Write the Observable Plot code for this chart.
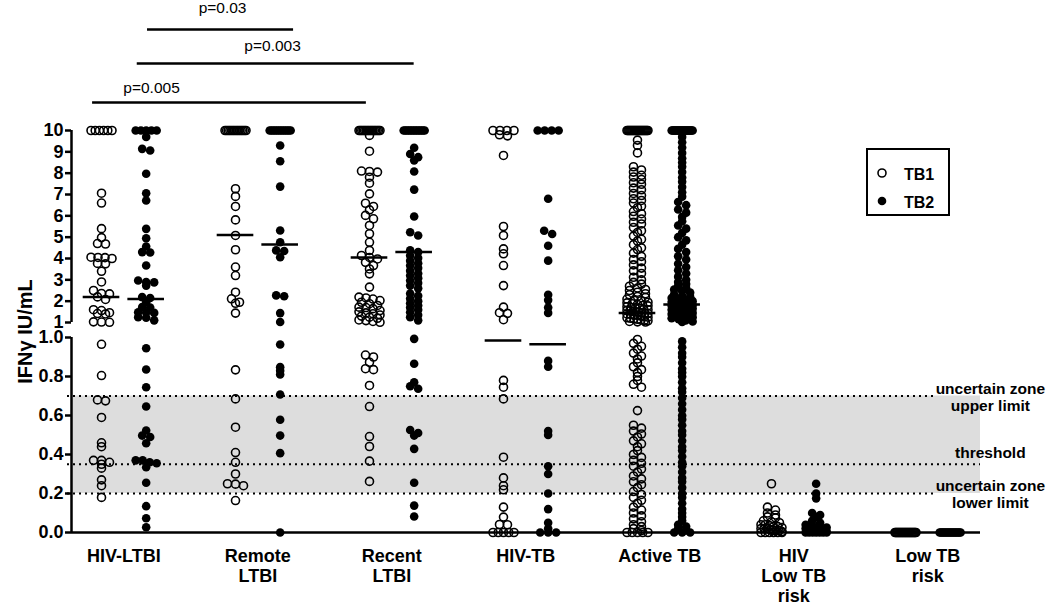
<!DOCTYPE html>
<html><head><meta charset="utf-8">
<script src="https://cdn.jsdelivr.net/npm/d3@7"></script>
<script src="https://cdn.jsdelivr.net/npm/@observablehq/plot@0.6"></script>
<style>
html,body{margin:0;padding:0;background:#fff;font-family:"Liberation Sans",Arial,Helvetica,sans-serif;}
#wrap{position:relative;width:1050px;height:605px;overflow:hidden;}
#legend{position:absolute;left:0;top:0;}
</style></head>
<body><div id="wrap"></div>
<script>
// ---------------- DATA ----------------
const groups = ["HIV-LTBI", "Remote\nLTBI", "Recent\nLTBI", "HIV-TB", "Active TB", "HIV\nLow TB\nrisk", "Low TB\nrisk"];
const seriesNames = ["TB1", "TB2"];

const hivLtbiTB1 = [10,10,10,10,10,10,7.06,6.6,5.4,4.98,4.7,4.68,4.06,4.05,4.04,4.0,3.77,3.75,3.4,2.9,2.5,2.36,2.34,2.2,2.08,1.6,1.56,1.46,1.42,1.4,1.03,1.02,1.01,0.965,0.805,0.68,0.675,0.59,0.46,0.44,0.37,0.37,0.36,0.35,0.33,0.27,0.24,0.18];
const hivLtbiTB2 = [10,10,10,10,10,9.7,9.14,9.06,7.97,7.06,6.72,5.39,4.95,4.56,4.3,4.28,3.67,2.97,2.9,2.88,2.73,2.19,2.15,1.95,1.72,1.7,1.48,1.47,1.45,1.25,1.22,1.1,0.945,0.836,0.745,0.646,0.523,0.497,0.49,0.458,0.37,0.37,0.36,0.355,0.335,0.255,0.135,0.073,0.027];
const remoteTB1 = [10,10,10,10,10,10,10,10,10,10,10,10,10,10,7.27,6.91,6.44,5.81,5.08,4.41,3.6,3.2,2.42,2.11,1.95,1.9,1.44,0.834,0.685,0.54,0.41,0.36,0.3,0.25,0.248,0.24,0.164];
const remoteTB2 = [10,10,10,10,10,10,10,10,10,10,10,10,10,9.3,8.56,7.37,5.31,4.76,4.38,4.35,4.06,2.27,2.23,1.44,1.02,0.964,0.848,0.83,0.81,0.708,0.578,0.497,0.407,0];
const recentTB1 = [10,10,10,10,10,10,10,10,10,10,10,10,10,10,10,10,9.77,9.03,8.1,8.08,8.05,7.81,7.53,7.03,6.59,6.44,6.28,6.02,5.86,5.55,5.16,4.76,4.38,4.14,4.05,3.98,3.82,3.67,3.51,3.28,2.66,2.19,2.15,2.1,2.03,1.95,1.88,1.8,1.72,1.7,1.65,1.56,1.5,1.45,1.41,1.35,1.3,1.25,1.2,1.12,1.09,1.05,1.01,0.91,0.9,0.873,0.84,0.835,0.754,0.646,0.492,0.441,0.366,0.262];
const recentTB2 = [10,10,10,10,10,10,10,10,10,10,10,10,10,10,9.19,8.9,8.75,8.6,8.08,7.23,5.97,5.23,5.08,4.38,4.3,4.14,4.02,3.9,3.78,3.67,3.55,3.43,3.3,3.2,3.08,2.97,2.85,2.73,2.6,2.36,2.25,2.12,2.0,1.9,1.8,1.7,1.6,1.48,1.35,1.25,1.1,0.993,0.865,0.77,0.75,0.737,0.526,0.51,0.497,0.429,0.255,0.138,0.082];
const hivTbTB1 = [10,10,10,10,9.8,9.75,8.83,5.5,5.08,4.45,4.22,3.67,2.73,1.72,1.46,1.43,1.13,0.78,0.745,0.685,0.386,0.28,0.24,0.219,0.13,0.079,0.041,0.04,0,0,0,0,0];
const hivTbTB2 = [10,10,10,10,6.8,5.3,5.15,4.6,3.9,2.3,2.05,1.7,1.45,0.88,0.85,0.52,0.5,0.34,0.3,0.2,0.12,0.05,0.02,0,0,0];
const activeTB1 = [10,10,10,10,10,10,10,10,10,10,10,10,10,10,10,10,10,10,10,10,10,10,
  9.55,9.3,8.95,8.3,8.15,8.05,7.9,7.82,7.7,7.55,7.48,7.3,7.22,7.05,6.95,6.8,6.72,6.6,6.45,6.38,6.2,6.1,5.98,5.85,5.7,5.62,5.45,5.3,5.22,5.05,4.9,4.82,4.65,4.5,4.42,4.25,4.1,3.95,3.85,3.7,3.55,3.42,3.3,3.12,3.0,2.88,2.8,2.7,2.62,2.55,2.5,2.42,2.35,2.3,2.22,2.18,2.1,2.05,2.02,1.95,1.92,1.88,1.85,1.8,1.78,1.74,1.7,1.68,1.66,1.62,1.6,1.57,1.55,1.52,1.5,1.48,1.46,1.44,1.42,1.4,1.38,1.35,1.33,1.3,1.28,1.25,1.22,1.2,1.17,1.15,1.12,1.1,1.08,1.05,1.03,1.02,
  0.99,0.97,0.955,0.94,0.92,0.905,0.89,0.87,0.85,0.835,0.82,0.8,0.78,0.76,0.745,0.625,0.55,0.535,0.52,0.505,0.49,0.47,0.455,0.44,0.42,0.4,0.385,0.37,0.355,0.34,0.325,0.31,0.29,0.275,0.26,0.245,0.23,0.21,0.195,0.18,0.165,0.15,0.13,0.115,0.1,0.085,0.07,0.055,0.04,0.03,0.02,0.01,0,0,0,0,0];
const activeTB2 = [10,10,10,10,10,10,10,10,10,10,10,10,10,10,10,10,10,10,10,10,10,10,
  9.7,9.45,9.2,8.95,8.7,8.5,8.3,8.05,7.8,7.6,7.35,7.1,6.9,6.65,6.5,6.3,6.15,5.95,5.75,5.55,5.4,5.2,5.0,4.85,4.65,4.45,4.3,4.1,3.95,3.75,3.6,3.45,3.3,3.15,3.0,2.9,2.8,2.72,2.62,2.55,2.48,2.4,2.32,2.25,2.2,2.15,2.1,2.05,2.0,1.96,1.92,1.88,1.85,1.82,1.78,1.75,1.72,1.68,1.65,1.6,1.55,1.5,1.45,1.4,1.35,1.3,1.25,1.2,1.15,1.1,1.05,1.02,
  0.98,0.95,0.92,0.9,0.87,0.84,0.82,0.8,0.77,0.74,0.72,0.69,0.66,0.63,0.6,0.58,0.55,0.52,0.5,0.47,0.44,0.42,0.39,0.36,0.34,0.31,0.28,0.26,0.23,0.2,0.18,0.15,0.12,0.1,0.08,0.06,0.04,0.03,0.02,0.01,0,0,0];
const hivLowTB1 = [0.25,0.13,0.115,0.1,0.09,0.08,0.075,0.06,0.055,0.05,0.04,0.04,0.035,0.03,0.03,0.025,0.02,0.02,0.02,0.015,0.01,0.01,0.01,0.005,0,0,0,0,0,0];
const hivLowTB2 = [0.25,0.2,0.175,0.1,0.09,0.08,0.06,0.05,0.04,0.035,0.03,0.025,0.02,0.02,0.015,0.01,0.01,0.01,0.005,0,0,0,0,0,0,0];
const lowRiskTB1 = [0,0,0,0,0,0,0,0,0,0,0,0,0,0,0,0,0,0,0,0,0,0,0,0];
const lowRiskTB2 = [0,0,0,0,0,0,0,0,0,0,0,0,0,0,0,0,0,0];

const mediansTB1 = [2.2, 5.1, 4.05, 0.985, 1.44, null, null];
const mediansTB2 = [2.1, 4.66, 4.3, 0.965, 1.84, null, null];

const lowerTicks = [0, 0.2, 0.4, 0.6, 0.8, 1.0];
const lowerTickLabels = ["0.0", "0.2", "0.4", "0.6", "0.8", "1.0"];
const upperTicks = [1, 2, 3, 4, 5, 6, 7, 8, 9, 10];
const upperTickLabels = ["1", "2", "3", "4", "5", "6", "7", "8", "9", "10"];

const zoneBand = [0.2, 0.7];
const zoneLines = [0.2, 0.35, 0.7];
const zoneLabels = ["uncertain zone\nlower limit", "threshold", "uncertain zone\nupper limit"];

const comparisonLabels = ["p=0.005", "p=0.003", "p=0.03"];

// ---------------- LAYOUT ----------------
const W = 1050, H = 605, ML = 71, MR = 70, MT = 130, MB = 73;
const X0 = -0.672, X1 = 19.68;             // slot units: TB1 of group g at 3g, TB2 at 3g+1
const PX = (W - ML - MR) / (X1 - X0);
const LOW = 195, GAP = 15, UP = 21.333;    // broken axis segments
const lowT = v => v * LOW;
const upT = v => LOW + GAP + (v - 1) * UP;
const T = v => (v <= 1 ? lowT(v) : upT(v));
const YMAX = upT(10);

const bracketLayout = [
  {x1: -0.2, x2: 5.93, lx: 1.12, y: 430, ty: 439.5},
  {x1: 0.8, x2: 7.0, lx: 3.83, y: 469, ty: 481},
  {x1: 1.03, x2: 4.3, lx: 2.71, y: 503, ty: 519.5}
];
const brackets = comparisonLabels.map((label, i) => ({label, ...bracketLayout[i]}));

// GraphPad-like column scatter: points falling in the same small vertical bin are spread side by side
function scatterOffsets(vals, binH, step, maxW) {
  const order = vals.map((v, i) => i).sort((a, b) => vals[b] - vals[a]);
  const out = new Array(vals.length);
  let bin = [], top = null;
  const flush = () => {
    const n = bin.length;
    const s = n > 1 ? Math.min(step, maxW / (n - 1)) : 0;
    bin.forEach((idx, k) => { out[idx] = (k - (n - 1) / 2) * s; });
    bin = [];
  };
  for (const i of order) {
    const py = T(vals[i]);
    if (top === null || top - py > binH) { flush(); top = py; }
    bin.push(i);
  }
  flush();
  return out;
}

const seriesByGroup = [
  [hivLtbiTB1, hivLtbiTB2], [remoteTB1, remoteTB2], [recentTB1, recentTB2],
  [hivTbTB1, hivTbTB2], [activeTB1, activeTB2], [hivLowTB1, hivLowTB2], [lowRiskTB1, lowRiskTB2]
];
const rows = [];
seriesByGroup.forEach((pair, g) => pair.forEach((vals, s) => {
  const slot = 3 * g + s;
  const offs = scatterOffsets(vals, 3.5, 8, 21);
  vals.forEach((v, i) => rows.push({group: groups[g], series: seriesNames[s], v, slot, xo: slot + offs[i] / PX}));
}));
const medians = [];
groups.forEach((g, i) => {
  if (mediansTB1[i] != null) medians.push({slot: 3 * i, v: mediansTB1[i]});
  if (mediansTB2[i] != null) medians.push({slot: 3 * i + 1, v: mediansTB2[i]});
});

const yTickLabel = new Map([
  ...lowerTicks.map((t, i) => [lowT(t), lowerTickLabels[i]]),
  ...upperTicks.map((t, i) => [upT(t), upperTickLabels[i]])
]);
const groupTicks = groups.map((g, i) => 3 * i + 0.5);
const groupLabel = new Map(groups.map((g, i) => [3 * i + 0.5, g]));
const LABEL_X = 19.9;
const LINE_END = 18.63;
const zones = zoneLines.map((v, i) => ({v, label: zoneLabels[i], end: zoneLabels[i].startsWith("uncertain") ? LINE_END : X1}));

const font = "'Liberation Sans', Arial, Helvetica, sans-serif";

const chart = Plot.plot({
  width: W, height: H,
  marginLeft: ML, marginRight: MR, marginTop: MT, marginBottom: MB,
  x: {domain: [X0, X1]},
  y: {domain: [0, YMAX]},
  style: {fontFamily: font, background: "white", color: "black", overflow: "visible"},
  marks: [
    Plot.rect([zoneBand], {x1: X0, x2: X1, y1: d => T(d[0]), y2: d => T(d[1]), fill: "#dddddd"}),
    Plot.ruleY(zones, {y: d => T(d.v), x1: X0 - 4 / PX, x2: d => d.end, stroke: "black", strokeWidth: 2, strokeDasharray: "2,4"}),
    Plot.ruleY([0], {stroke: "black", strokeWidth: 2.5}),
    Plot.ruleX([X0], {y1: lowT(0), y2: lowT(1), stroke: "black", strokeWidth: 2.5}),
    Plot.ruleX([X0], {y1: upT(1), y2: upT(10), stroke: "black", strokeWidth: 2.5}),
    Plot.axisY([...lowerTicks.map(lowT), ...upperTicks.map(upT)], {
      tickFormat: d => yTickLabel.get(d), tickSize: 6, tickPadding: 2, strokeWidth: 2.5,
      fontSize: 18, fontWeight: "bold", label: null
    }),
    Plot.axisX(groupTicks, {
      tickFormat: d => groupLabel.get(d), tickSize: 0, tickPadding: 15,
      fontSize: 18, fontWeight: "bold", lineHeight: 1.11, label: null
    }),
    Plot.text(["IFNγ IU/mL"], {text: d => d, frameAnchor: "left", textAnchor: "middle", rotate: -90, dx: -46, fontSize: 20, fontWeight: "bold"}),
    Plot.dot(rows.filter(d => d.series === "TB1"), {x: "xo", y: d => T(d.v), r: 4, fill: "none", stroke: "black", strokeWidth: 1.6}),
    Plot.dot(rows.filter(d => d.series === "TB2"), {x: "xo", y: d => T(d.v), r: 4.3, fill: "black", stroke: "none"}),
    Plot.ruleY(medians, {y: d => T(d.v), x1: d => d.slot - 0.41, x2: d => d.slot + 0.41, stroke: "black", strokeWidth: 2.5}),
    Plot.text(zones.filter(d => d.label.includes("\n")), {x: LABEL_X, y: d => T(d.v), text: "label", lineAnchor: "bottom", dy: 14.7, lineHeight: 1.1, fontSize: 15.5, fontWeight: "bold", textAnchor: "middle"}),
    Plot.text(zones.filter(d => !d.label.includes("\n")), {x: LABEL_X, y: d => T(d.v), text: "label", lineAnchor: "bottom", dy: -6, fontSize: 15.5, fontWeight: "bold", textAnchor: "middle"}),
    Plot.ruleY(brackets, {y: "y", x1: "x1", x2: "x2", stroke: "black", strokeWidth: 2.5}),
    Plot.text(brackets, {x: "lx", y: "ty", text: "label", lineAnchor: "bottom", fontSize: 15.5})
  ]
});
const wrap = document.getElementById("wrap");
wrap.appendChild(chart);

// legend (SVG overlay)
const lg = d3.select(wrap).append("svg").attr("id", "legend").attr("width", W).attr("height", H)
  .style("pointer-events", "none").style("font-family", font);
lg.append("rect").attr("x", 867).attr("y", 149).attr("width", 82).attr("height", 66)
  .attr("fill", "white").attr("stroke", "black").attr("stroke-width", 2);
seriesNames.forEach((name, i) => {
  const cy = 173 + i * 28;
  lg.append("circle").attr("cx", 882).attr("cy", cy).attr("r", i === 0 ? 4 : 4.3)
    .attr("fill", i === 0 ? "white" : "black").attr("stroke", i === 0 ? "black" : "none").attr("stroke-width", 1.6);
  lg.append("text").attr("x", 904).attr("y", cy + 6.5).attr("font-size", 16).attr("font-weight", "bold").text(name);
});
</script>
</body></html>
